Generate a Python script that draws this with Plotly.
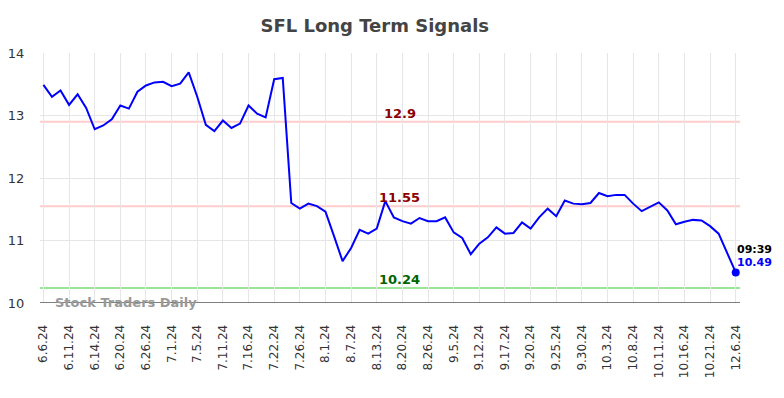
import plotly.graph_objects as go

values = [13.49, 13.30, 13.40, 13.17, 13.34, 13.12, 12.78, 12.84, 12.94, 13.16,
          13.11, 13.38, 13.48, 13.53, 13.54, 13.47, 13.51, 13.69, 13.30, 12.85,
          12.75, 12.92, 12.80, 12.87, 13.16, 13.03, 12.97, 13.58, 13.60, 11.60,
          11.51, 11.59, 11.55, 11.46, 11.07, 10.67, 10.88, 11.17, 11.11, 11.19,
          11.63, 11.37, 11.31, 11.27, 11.36, 11.31, 11.31, 11.37, 11.13, 11.04,
          10.78, 10.95, 11.05, 11.21, 11.11, 11.12, 11.29, 11.19, 11.37, 11.51,
          11.39, 11.64, 11.59, 11.58, 11.60, 11.76, 11.71, 11.73, 11.73, 11.59,
          11.47, 11.54, 11.61, 11.48, 11.26, 11.30, 11.33, 11.32, 11.23, 11.11,
          10.80, 10.49]

tick_labels = ["6.6.24", "6.11.24", "6.14.24", "6.20.24", "6.26.24", "7.1.24", "7.5.24",
               "7.11.24", "7.16.24", "7.22.24", "7.26.24", "8.1.24", "8.7.24", "8.13.24",
               "8.20.24", "8.26.24", "9.5.24", "9.12.24", "9.17.24", "9.20.24", "9.25.24",
               "9.30.24", "10.3.24", "10.8.24", "10.11.24", "10.16.24", "10.21.24", "12.6.24"]

levels = [12.9, 11.55, 10.24]
level_line_colors = ["#ffcccc", "#ffcccc", "#99e699"]
level_text_colors = ["#8b0000", "#8b0000", "#006400"]

last_time = "09:39"
title = "SFL Long Term Signals"
watermark = "Stock Traders Daily"

x = list(range(len(values)))
tick_step = 3
tickvals = [i * tick_step for i in range(len(tick_labels))]

font = "DejaVu Sans"
fig = go.Figure()

for lv, lc in zip(levels, level_line_colors):
    fig.add_shape(type="line", xref="paper", x0=0, x1=1, yref="y", y0=lv, y1=lv,
                  line=dict(color=lc, width=2), layer="below")

fig.add_trace(go.Scatter(x=x, y=values, mode="lines",
                         line=dict(color="#0000ff", width=2), hoverinfo="skip"))
fig.add_trace(go.Scatter(x=[x[-1]], y=[values[-1]], mode="markers",
                         marker=dict(color="#0000ff", size=8), hoverinfo="skip"))

label_x = 41.7
for lv, tc in zip(levels, level_text_colors):
    fig.add_annotation(x=label_x, y=lv, text=f"<b>{lv:g}</b>", showarrow=False,
                       yanchor="bottom", xanchor="center", yshift=-1,
                       font=dict(family=font, size=13, color=tc))

fig.add_annotation(x=x[-1], y=values[-1], text=f"<b>{last_time}</b>", showarrow=False,
                   xanchor="left", yanchor="middle", xshift=-1, yshift=23,
                   font=dict(family=font, size=11, color="#000000"))
fig.add_annotation(x=x[-1], y=values[-1], text=f"<b>{values[-1]:g}</b>", showarrow=False,
                   xanchor="left", yanchor="middle", xshift=-1, yshift=10,
                   font=dict(family=font, size=11, color="#0000ff"))

fig.add_annotation(xref="paper", x=0.018, y=10.0, text=f"<b>{watermark}</b>", showarrow=False,
                   xanchor="left", yanchor="middle", yshift=1,
                   font=dict(family=font, size=13, color="#999999"))

fig.update_layout(
    width=784, height=398,
    margin=dict(l=40, r=44, t=53, b=95, autoexpand=False),
    paper_bgcolor="white", plot_bgcolor="white",
    showlegend=False,
    title=dict(text=f"<b>{title}</b>", x=0.478, xanchor="center", y=0.935, yanchor="middle",
               font=dict(family=font, size=18, color="#444444")),
    font=dict(family=font, color="#333333"),
)
fig.update_xaxes(range=[-0.4, 81.5], tickmode="array", tickvals=tickvals, ticktext=tick_labels,
                 tickangle=-90, tickfont=dict(size=12, color="#333333"), automargin=False,
                 showgrid=True, gridcolor="#e6e6e6", gridwidth=1, zeroline=False,
                 showline=False, ticks="outside", ticklen=16, tickcolor="rgba(0,0,0,0)")
fig.update_yaxes(range=[10, 14], tickvals=[10, 11, 12, 13, 14], automargin=False,
                 tickfont=dict(size=13, color="#333333"),
                 showgrid=True, gridcolor="#e6e6e6", gridwidth=1, zeroline=False,
                 showline=False, ticks="outside", ticklen=12, tickcolor="rgba(0,0,0,0)")
fig.add_shape(type="line", xref="paper", x0=0, x1=1, yref="y", y0=10, y1=10,
              line=dict(color="#555555", width=1.5))

fig.write_html("out.html", config={"displayModeBar": False},
               post_script="document.body.style.margin='0';document.body.style.overflow='hidden';")
